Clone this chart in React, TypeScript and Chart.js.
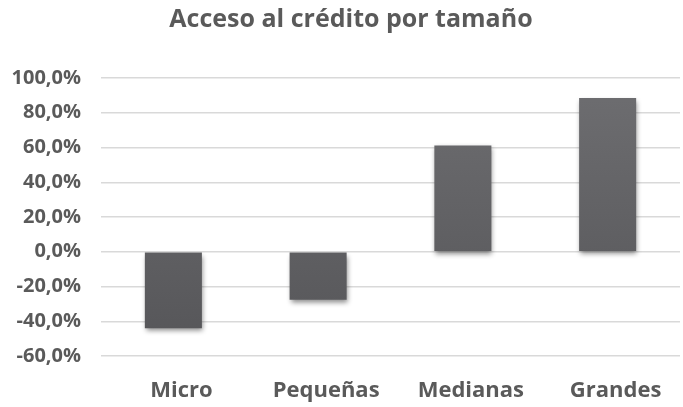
import React, { useEffect, useRef } from "react";
import { Chart, registerables } from "chart.js";

Chart.register(...registerables);

const categories = ["Micro", "Pequeñas", "Medianas", "Grandes"];
const values = [-44.0, -27.6, 61.2, 88.5];
const yMin = -60;
const yMax = 100;
const yStep = 20;
const title = "Acceso al crédito por tamaño";

const FONT = "'Open Sans', sans-serif";
const TEXT = "#5a5a5a";
const TITLE_SHIFT = 11;

const shadowPlugin = {
  id: "barShadow",
  afterLayout(chart: any) {
    const t = chart.titleBlock;
    if (t) {
      t.left += TITLE_SHIFT;
      t.right += TITLE_SHIFT;
    }
  },
  beforeDatasetsDraw(chart: any) {
    const ctx = chart.ctx;
    ctx.save();
    ctx.shadowColor = "rgba(0,0,0,0.45)";
    ctx.shadowBlur = 5;
    ctx.shadowOffsetX = 1;
    ctx.shadowOffsetY = 3;
  },
  afterDatasetsDraw(chart: any) {
    chart.ctx.restore();
  },
};

export default function App() {
  const ref = useRef<HTMLCanvasElement | null>(null);
  useEffect(() => {
    if (!ref.current) return;
    const chart = new Chart(ref.current, {
      type: "bar",
      data: {
        labels: categories,
        datasets: [
          {
            data: values,
            backgroundColor: (c: any) => {
              const ch = c.chart;
              const area = ch.chartArea;
              if (!area) return "#5f5f62";
              const g = ch.ctx.createLinearGradient(0, area.top, 0, area.bottom);
              g.addColorStop(0, "#6e6e71");
              g.addColorStop(1, "#555558");
              return g;
            },
            borderWidth: 0,
            categoryPercentage: 1,
            barPercentage: 0.394,
          },
        ],
      },
      options: {
        animation: false,
        responsive: false,
        maintainAspectRatio: false,
        layout: { padding: { left: 0, right: 3, top: 3, bottom: 0 } },
        plugins: {
          legend: { display: false },
          tooltip: { enabled: false },
          title: {
            display: true,
            text: title,
            color: TEXT,
            font: { family: FONT, size: 25, weight: "bold" },
            padding: { top: 2, bottom: 43 },
          },
        },
        scales: {
          x: {
            grid: { display: false },
            border: { display: false },
            ticks: {
              color: TEXT,
              font: { family: FONT, size: 22, weight: "bold" },
              padding: 14,
              maxRotation: 0,
              labelOffset: 8,
            },
            afterFit: (s: any) => {
              s.height = 51;
            },
          },
          y: {
            min: yMin,
            max: yMax,
            grid: { color: "#d9d9d9", lineWidth: 1.5, drawTicks: false },
            border: { display: false },
            ticks: {
              stepSize: yStep,
              color: TEXT,
              font: { family: FONT, size: 20, weight: "bold" },
              padding: 20,
              callback: (v: any) => Number(v).toFixed(1).replace(".", ",") + "%",
            },
            afterFit: (s: any) => {
              s.width = 101;
            },
          },
        },
      },
      plugins: [shadowPlugin],
    });
    return () => chart.destroy();
  }, []);
  return (
    <div style={{ position: "fixed", left: 0, top: 0, width: 683, height: 407, background: "#fff" }}>
      <canvas ref={ref} width={683} height={407} />
    </div>
  );
}
